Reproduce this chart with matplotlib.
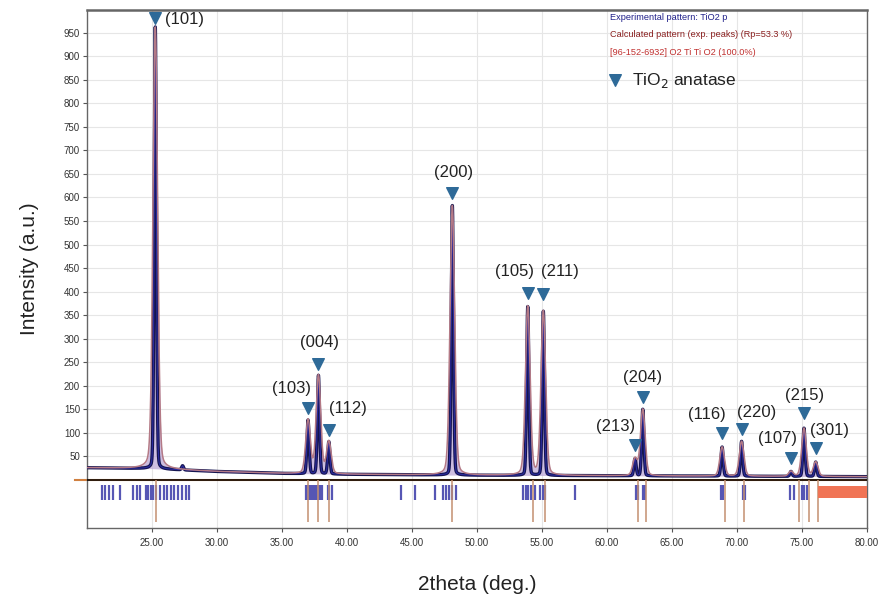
import numpy as np
import matplotlib
matplotlib.use("Agg")
import matplotlib.pyplot as plt
from matplotlib.patches import Rectangle

plt.rcParams["font.family"] = ["Liberation Sans", "DejaVu Sans"]

# ---------------- data ----------------
hkl = ["(101)", "(103)", "(004)", "(112)", "(200)", "(105)", "(211)",
       "(213)", "(204)", "(116)", "(220)", "(107)", "(215)", "(301)"]
peak_pos = [25.25, 37.0, 37.8, 38.6, 48.1, 53.9, 55.1,
            62.15, 62.75, 68.85, 70.35, 74.15, 75.15, 76.05]
peak_height = [962, 127, 222, 81, 583, 368, 358,
               45, 150, 70, 82, 18, 110, 38]
marker_y = [982, 153, 246, 106, 609, 397, 395,
            74, 176, 100, 108, 47, 142, 68]
label_x = [26.0, 35.69, 37.92, 40.08, 48.23, 52.92, 56.38,
           60.62, 62.77, 67.69, 71.54, 73.08, 75.23, 77.15]
label_y = [977, 195, 291, 151, 652, 442, 442,
           113, 217, 138, 144, 89, 180, 106]

# small extra bump in the experimental pattern
extra_pos = [27.35]
extra_height = [30]

# background of experimental pattern
bg_x = [20, 25, 30, 35, 40, 45, 50, 60, 70, 80]
bg_y = [26, 24, 18, 14, 12, 11, 10, 9, 8, 7]

# reference pattern bars (96-152-6932)
ref_bars = [21.13, 21.38, 21.72, 21.97, 22.54, 23.52, 23.82, 24.08, 24.54,
            24.72, 24.9, 25.05, 25.31, 25.62, 25.92, 26.18, 26.44, 26.69,
            27.02, 27.28, 27.62, 27.87,
            36.85, 37.0, 37.15, 37.3, 37.45, 37.6, 37.75, 37.9, 38.05,
            38.5, 38.65, 38.85,
            44.13, 45.23, 46.77, 47.35, 47.6, 47.85, 48.1, 48.4,
            53.55, 53.75, 53.95, 54.15, 54.46, 54.85, 55.05, 55.25,
            57.54, 62.2, 62.4, 62.8, 62.95, 68.75, 68.95, 70.45, 70.6,
            74.1, 74.4, 75.0, 75.15, 75.35]
drop_lines = [25.3, 37.0, 37.8, 38.6, 48.1, 54.3, 55.2, 62.4, 63.0,
              69.1, 70.5, 74.8, 75.5, 76.2]
red_box = [76.2, 80.0]

legend_lines = ["Experimental pattern: TiO2 p",
                "Calculated pattern (exp. peaks) (Rp=53.3 %)",
                "[96-152-6932] O2 Ti Ti O2 (100.0%)"]
legend_colors = ["#20208a", "#8a1f1f", "#c0302f"]

x_ticks = [25, 30, 35, 40, 45, 50, 55, 60, 65, 70, 75, 80]
y_ticks = list(range(50, 1000, 50))

# ---------------- build profiles ----------------
x = np.linspace(20, 80, 8001)
bg = np.interp(x, bg_x, bg_y)


def pv(x, c, w, eta=0.5):
    g = np.exp(-4 * np.log(2) * ((x - c) / w) ** 2)
    l = 1.0 / (1 + 4 * ((x - c) / w) ** 2)
    return eta * l + (1 - eta) * g


exp_y = bg.copy()
calc_y = bg.copy()
for p, h in zip(peak_pos, peak_height):
    a = h - np.interp(p, bg_x, bg_y)
    exp_y += a * pv(x, p, 0.2, 0.12)
    calc_y += a * pv(x, p, 0.42, 0.2)
for p, h in zip(extra_pos, extra_height):
    a = h - np.interp(p, bg_x, bg_y)
    exp_y += a * pv(x, p, 0.18, 0.1)

# ---------------- figure ----------------
fig = plt.figure(figsize=(8.89, 6.03), dpi=100)
ax = fig.add_axes([0.0979, 0.1244, 0.8774, 0.859])
ax.set_xlim(20, 80)
ax.set_ylim(-102, 998)

ax.set_xticks(x_ticks)
ax.set_xticklabels([f"{t:.2f}" for t in x_ticks])
ax.set_yticks(y_ticks)
ax.set_yticklabels([str(t) for t in y_ticks])
ax.tick_params(axis="both", labelsize=7, length=3, color="#555555",
               labelcolor="#333333", direction="out", pad=2)
ax.tick_params(axis="x", pad=4)
ax.grid(True, color="#e6e6e6", lw=0.8)
ax.set_axisbelow(True)
for s in ax.spines.values():
    s.set_color("#666666")
    s.set_linewidth(1.0)
ax.spines["top"].set_linewidth(1.8)

# baseline
ax.plot([19.1, 80], [0, 0], color="#d08040", lw=1.5, clip_on=False, zorder=2)
ax.axhline(0, color="black", lw=1.1, zorder=3)

# calculated fill
ax.fill_between(x, bg, calc_y, color="#b9a3d4", alpha=0.7, lw=0, zorder=3)
# experimental pattern
ax.plot(x, exp_y, color="#15154f", lw=2.4, zorder=4)
ax.plot(x, exp_y, color="#3434c0", lw=0.8, zorder=4, alpha=0.7)
# calculated profile
ax.plot(x, calc_y, color="#b47a86", lw=1.1, zorder=5)

# reference bars below baseline
ax.vlines(ref_bars, -42, -10, color="#5656b4", lw=1.6, zorder=4)
ax.vlines(drop_lines, -90, 0, color="#c49070", lw=1.1, zorder=4)
ax.add_patch(Rectangle((red_box[0], -38), red_box[1] - red_box[0], 25,
                       color="#f07455", lw=0, zorder=4))

# peak markers and labels
ax.scatter(peak_pos, marker_y, marker="v", s=70, color="#2e6a98", zorder=6,
           clip_on=False)
for i, (t, lx, ly) in enumerate(zip(hkl, label_x, label_y)):
    ax.text(lx, ly, t, fontsize=12, color="#222222",
            ha="left" if i == 0 else "center", va="center", zorder=7)

# legend texts
for i, (t, c) in enumerate(zip(legend_lines, legend_colors)):
    ax.text(60.2, 983 - i * 38, t, fontsize=6.6, color=c, ha="left",
            va="center", zorder=7)
ax.scatter([60.6], [849], marker="v", s=70, color="#2e6a98", zorder=7)
ax.text(61.9, 849, "TiO$_2$ anatase", fontsize=12.5, color="#222222",
        ha="left", va="center", zorder=7)

ax.set_xlabel("2theta (deg.)", fontsize=15, color="#222222", labelpad=20)
ax.set_ylabel("Intensity (a.u.)", fontsize=15, color="#222222", labelpad=18)

fig.savefig("out.png", dpi=100)
